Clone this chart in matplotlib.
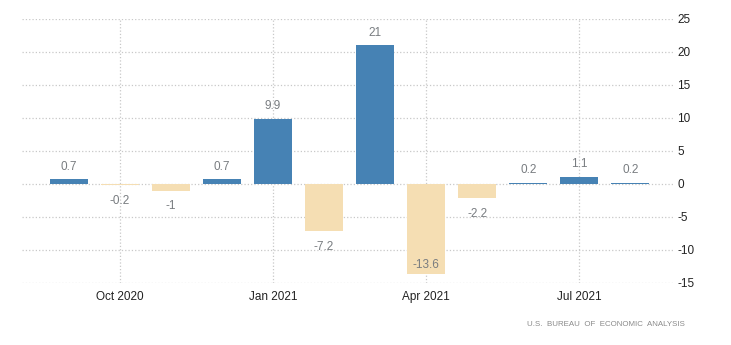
import matplotlib.pyplot as plt

months = ["Sep 2020", "Oct 2020", "Nov 2020", "Dec 2020", "Jan 2021", "Feb 2021",
          "Mar 2021", "Apr 2021", "May 2021", "Jun 2021", "Jul 2021", "Aug 2021"]
values = [0.7, -0.2, -1, 0.7, 9.9, -7.2, 21, -13.6, -2.2, 0.2, 1.1, 0.2]
tick_labels = ["Oct 2020", "Jan 2021", "Apr 2021", "Jul 2021"]
y_ticks = [-15, -10, -5, 0, 5, 10, 15, 20, 25]
source = "U.S.  BUREAU  OF  ECONOMIC  ANALYSIS"

plt.rcParams['font.family'] = ['Liberation Sans', 'DejaVu Sans']
plt.rcParams['axes.unicode_minus'] = False

fig = plt.figure(figsize=(7.31, 3.45), dpi=100)
ax = fig.add_axes([0.030, 0.180, 0.891, 0.765])

x = list(range(len(values)))
colors = ['#4682b4' if v >= 0 else '#f5deb3' for v in values]
ax.bar(x, values, width=0.74, color=colors, zorder=2)

ax.set_ylim(-15, 25)
ax.set_xlim(-0.92, 11.84)

for xi, v in zip(x, values):
    label = "%g" % v
    if v >= 0:
        off = 9
    elif v - 2.5 < -15:
        # too low, keep it inside the bar
        off = 6
    else:
        off = -11
    ax.annotate(label, (xi, v), xytext=(0, off), textcoords='offset points',
                ha='center', va='center', fontsize=8.5, color='#787c80')

tick_pos = [months.index(t) for t in tick_labels]
ax.set_xticks(tick_pos)
ax.set_xticklabels(tick_labels)
ax.set_yticks(y_ticks)
ax.yaxis.tick_right()
ax.tick_params(axis='both', length=0, labelsize=8.5, colors='#222222')
ax.tick_params(axis='x', pad=6)
ax.tick_params(axis='y', pad=3)

ax.grid(True, linestyle=':', color='#c8c8c8', linewidth=0.9, zorder=0)
ax.set_axisbelow(True)
for s in ax.spines.values():
    s.set_visible(False)

fig.text(685 / 731, 1 - 325 / 345, source, ha='right', va='center',
         fontsize=5.7, color='#8a8a8a')

plt.savefig("out.png", dpi=100)
